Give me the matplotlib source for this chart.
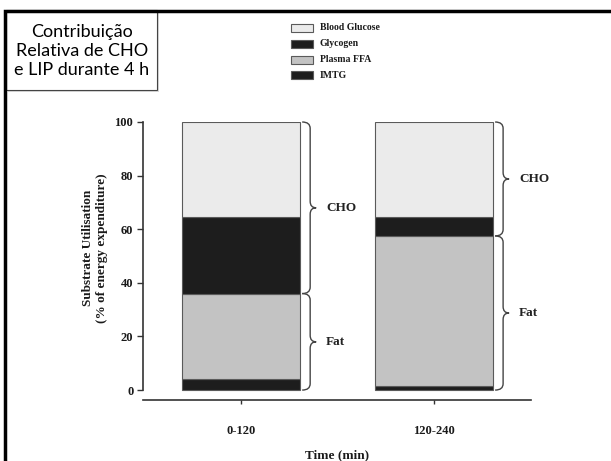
import matplotlib
matplotlib.use('Agg')
import matplotlib.pyplot as plt
from matplotlib.patches import Rectangle, PathPatch
from matplotlib.path import Path
from matplotlib.lines import Line2D

# data (% of energy expenditure)
periods = ['0-120', '120-240']
imtg = [4.0, 1.5]
plasma_ffa = [32.0, 56.0]
glycogen = [28.5, 7.0]
blood_glucose = [35.5, 35.5]
legend_names = ['Blood Glucose', 'Glycogen', 'Plasma FFA', 'IMTG']

W, H = 611, 461
SERIF = ['Liberation Serif', 'DejaVu Serif']

c_bg = '#ebebeb'
c_ffa = '#c3c3c3'
c_dark = '#1d1d1d'
c_edge = '#5a5a5a'


def fx(px):
    return px / W


def fy(py):
    return 1 - py / H


def brace(ax, x0, y0, y1, text, wpx=8, tpx=14, rr=2.4):
    # curly bracket "}" from y0 to y1, starting at x0 (data units)
    px = 1 / 193.0
    xm = x0 + wpx * px
    xt = x0 + tpx * px
    ym = (y0 + y1) / 2
    verts = [(x0, y1), (xm, y1), (xm, y1 - rr),
             (xm, ym + rr), (xm, ym), (xt, ym),
             (xm, ym), (xm, ym - rr),
             (xm, y0 + rr), (xm, y0), (x0, y0)]
    codes = [Path.MOVETO, Path.CURVE3, Path.CURVE3,
             Path.LINETO, Path.CURVE3, Path.CURVE3,
             Path.CURVE3, Path.CURVE3,
             Path.LINETO, Path.CURVE3, Path.CURVE3]
    ax.add_patch(PathPatch(Path(verts, codes), fill=False, ec='#444444', lw=1.0,
                           clip_on=False))
    ax.text(xt + 10 * px, ym, text, ha='left', va='center', fontsize=9.5,
            fontweight='bold', family=SERIF, color='#222222')


fig = plt.figure(figsize=(W / 100, H / 100), dpi=100)
ax = fig.add_axes([fx(143), fy(400), fx(531) - fx(143), fy(122) - fy(400)])

x = [0, 1]
width = 0.61
bottom = [0.0, 0.0]
for vals, col in [(imtg, c_dark), (plasma_ffa, c_ffa), (glycogen, c_dark), (blood_glucose, c_bg)]:
    ax.bar(x, vals, width, bottom=bottom, color=col, edgecolor=c_edge, linewidth=0.8)
    bottom = [b + v for b, v in zip(bottom, vals)]

# braces for CHO / Fat
for i in range(len(periods)):
    fat = imtg[i] + plasma_ffa[i]
    xr = x[i] + width / 2 + 0.012
    brace(ax, xr, fat, 100, 'CHO')
    brace(ax, xr, 0, fat, 'Fat')

ax.set_xlim(-0.508, 1.503)
ax.set_ylim(-3.7, 100)
ax.spines['top'].set_visible(False)
ax.spines['right'].set_visible(False)
ax.spines['left'].set_bounds(0, 100)
for s in ['left', 'bottom']:
    ax.spines[s].set_color('#333333')
    ax.spines[s].set_linewidth(1.2)

ax.set_yticks([0, 20, 40, 60, 80, 100])
ax.set_xticks(x)
ax.set_xticklabels(periods)
ax.tick_params(axis='y', length=4, width=1, pad=3, colors='#333333', labelsize=9)
ax.tick_params(axis='x', length=3, width=1, pad=15, colors='#333333', labelsize=9)
for lab in ax.get_xticklabels() + ax.get_yticklabels():
    lab.set_family(SERIF)
    lab.set_fontweight('bold')
    lab.set_color('#1a1a1a')

ax.set_ylabel('Substrate Utilisation\n(% of energy expenditure)', fontsize=9.5,
              fontweight='bold', family=SERIF, color='#1a1a1a', linespacing=1.25)
ax.yaxis.set_label_coords(-0.09, 0.547)
ax.set_xlabel('Time (min)', fontsize=9.5, fontweight='bold', family=SERIF,
              color='#1a1a1a', labelpad=9)

# legend drawn by hand at the top
rows = [28, 44, 60, 75]
cols = [c_bg, c_dark, c_ffa, c_dark]
for name, ry, col in zip(legend_names, rows, cols):
    fig.add_artist(Rectangle((fx(291), fy(ry + 4)), fx(313) - fx(291), fy(ry - 4) - fy(ry + 4),
                             transform=fig.transFigure, fc=col, ec=c_edge, lw=0.8))
    fig.text(fx(320), fy(ry), name, ha='left', va='center', fontsize=7,
             fontweight='bold', family=SERIF, color='#1a1a1a')

# outer frame (left and top only)
fig.add_artist(Line2D([fx(5), fx(5), 1], [0, fy(11), fy(11)], transform=fig.transFigure,
                      color='black', lw=2.5, solid_joinstyle='miter'))

# title box with a light shadow
fig.add_artist(Rectangle((fx(8), fy(92)), fx(151), fy(10) - fy(90),
                         transform=fig.transFigure, fc='#d8d8d8', ec='none'))
fig.add_artist(Rectangle((fx(6), fy(90)), fx(151), fy(10) - fy(90),
                         transform=fig.transFigure, fc='white', ec='#444444', lw=0.8))
fig.text(fx(82), fy(51), 'Contribuição\nRelativa de CHO\ne LIP durante 4 h', ha='center',
         va='center', fontsize=13, family=['Lato', 'DejaVu Sans'], color='black',
         linespacing=1.25)

fig.savefig('out.png', dpi=100)
